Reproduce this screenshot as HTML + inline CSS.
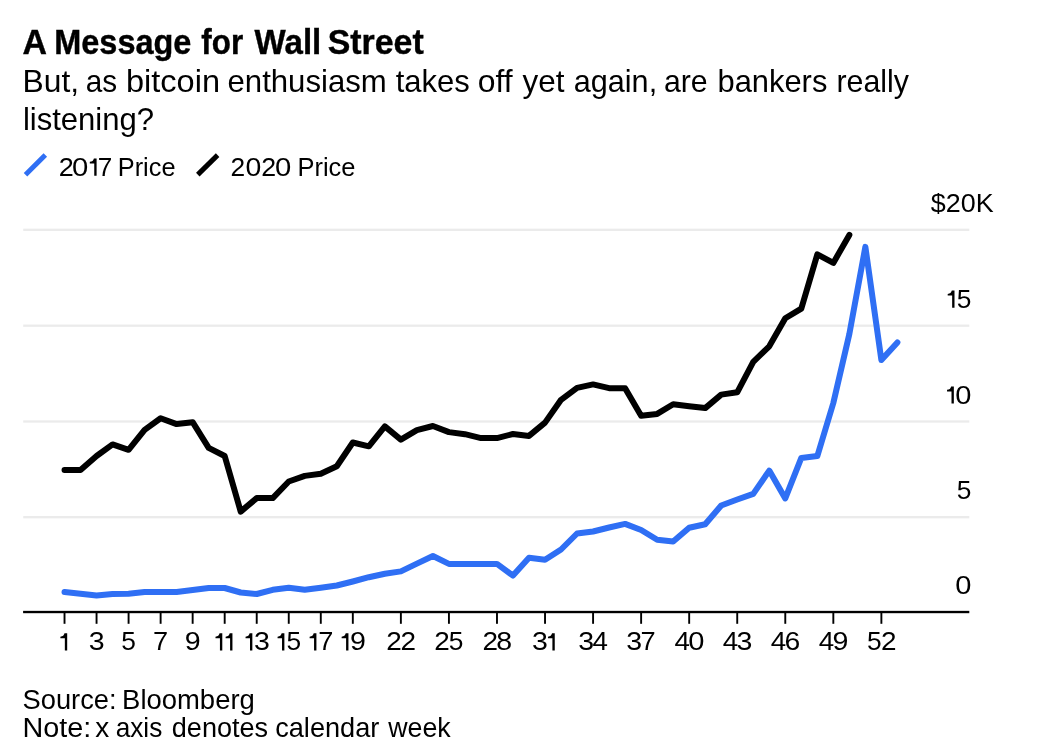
<!DOCTYPE html>
<html><head><meta charset="utf-8"><title>A Message for Wall Street</title>
<style>
html,body{margin:0;padding:0;background:#fff;}
body{width:1037px;height:751px;overflow:hidden;}
svg{display:block;will-change:transform;}
text{font-family:"Liberation Sans", sans-serif;fill:#000;}
</style></head><body>
<svg width="1037" height="751" viewBox="0 0 1037 751">
<rect width="1037" height="751" fill="#ffffff"/>

<text x="22.45" y="53.9" font-size="34.2" font-weight="bold" textLength="24.52" lengthAdjust="spacingAndGlyphs" stroke="#000" stroke-width="0.4">A</text><text x="54.29" y="53.9" font-size="34.2" font-weight="bold" textLength="137.13" lengthAdjust="spacingAndGlyphs" stroke="#000" stroke-width="0.4">Message</text><text x="201.33" y="53.9" font-size="34.2" font-weight="bold" textLength="41.78" lengthAdjust="spacingAndGlyphs" stroke="#000" stroke-width="0.4">for</text><text x="254.6" y="53.9" font-size="34.2" font-weight="bold" textLength="66.67" lengthAdjust="spacingAndGlyphs" stroke="#000" stroke-width="0.4">Wall</text><text x="327.68" y="53.9" font-size="34.2" font-weight="bold" textLength="96.01" lengthAdjust="spacingAndGlyphs" stroke="#000" stroke-width="0.4">Street</text>
<text x="22.56" y="91.7" font-size="31.1" textLength="56.51" lengthAdjust="spacingAndGlyphs">But,</text><text x="85.76" y="91.7" font-size="31.1" textLength="31.41" lengthAdjust="spacingAndGlyphs">as</text><text x="125.99" y="91.7" font-size="31.1" textLength="94.05" lengthAdjust="spacingAndGlyphs">bitcoin</text><text x="227.5" y="91.7" font-size="31.1" textLength="159.29" lengthAdjust="spacingAndGlyphs">enthusiasm</text><text x="395.74" y="91.7" font-size="31.1" textLength="74.05" lengthAdjust="spacingAndGlyphs">takes</text><text x="477.83" y="91.7" font-size="31.1" textLength="34.83" lengthAdjust="spacingAndGlyphs">off</text><text x="522.44" y="91.7" font-size="31.1" textLength="41.94" lengthAdjust="spacingAndGlyphs">yet</text><text x="573.72" y="91.7" font-size="31.1" textLength="83.42" lengthAdjust="spacingAndGlyphs">again,</text><text x="663.94" y="91.7" font-size="31.1" textLength="43.73" lengthAdjust="spacingAndGlyphs">are</text><text x="717.49" y="91.7" font-size="31.1" textLength="109.87" lengthAdjust="spacingAndGlyphs">bankers</text><text x="836.43" y="91.7" font-size="31.1" textLength="72.51" lengthAdjust="spacingAndGlyphs">really</text>
<text x="22.88" y="130.0" font-size="31.1" textLength="131.21" lengthAdjust="spacingAndGlyphs">listening?</text>
<line x1="25.5" y1="174.8" x2="45.3" y2="155.1" stroke="#2f6ff4" stroke-width="5"/>
<text x="58.65" y="175.85" font-size="25.2" textLength="15.03" lengthAdjust="spacingAndGlyphs">2</text><text x="72.13" y="175.85" font-size="25.2" textLength="16.28" lengthAdjust="spacingAndGlyphs">0</text><text x="97.69" y="175.85" font-size="25.2" textLength="14.55" lengthAdjust="spacingAndGlyphs">7</text><text x="117.77" y="175.85" font-size="25.2" textLength="57.73" lengthAdjust="spacingAndGlyphs">Price</text>
<path d="M94.25,158.40 L96.60,158.40 L96.60,175.70 L94.25,175.70 L94.25,163.40 L89.80,163.40 L89.80,161.75 Q93.25,161.50 93.90,158.40 Z" fill="#000"/>
<line x1="197.8" y1="174.6" x2="217.6" y2="155.1" stroke="#000" stroke-width="5"/>
<text x="230.58" y="175.85" font-size="25.2" textLength="14.67" lengthAdjust="spacingAndGlyphs">2</text><text x="245.46" y="175.85" font-size="25.2" textLength="15.81" lengthAdjust="spacingAndGlyphs">0</text><text x="261.26" y="175.85" font-size="25.2" textLength="14.91" lengthAdjust="spacingAndGlyphs">2</text><text x="275.13" y="175.85" font-size="25.2" textLength="16.28" lengthAdjust="spacingAndGlyphs">0</text><text x="297.47" y="175.85" font-size="25.2" textLength="57.94" lengthAdjust="spacingAndGlyphs">Price</text>
<rect x="23.2" y="228.65" width="946.1" height="2.3" fill="#ebebeb"/>
<rect x="23.2" y="324.55" width="946.1" height="2.3" fill="#ebebeb"/>
<rect x="23.2" y="420.35" width="946.1" height="2.3" fill="#ebebeb"/>
<rect x="23.2" y="516.05" width="946.1" height="2.3" fill="#ebebeb"/>
<text x="930.83" y="211.5" font-size="25.2" textLength="62.78" lengthAdjust="spacingAndGlyphs">$20K</text>
<path d="M952.15,290.60 L954.50,290.60 L954.50,307.70 L952.15,307.70 L952.15,295.60 L947.70,295.60 L947.70,293.95 Q951.15,293.70 951.80,290.60 Z" fill="#000"/><text x="956.65" y="307.7" font-size="25.2" textLength="14.64" lengthAdjust="spacingAndGlyphs">5</text>
<path d="M951.50,386.50 L953.85,386.50 L953.85,403.60 L951.50,403.60 L951.50,391.50 L947.05,391.50 L947.05,389.85 Q950.50,389.60 951.15,386.50 Z" fill="#000"/><text x="955.24" y="403.6" font-size="25.2" textLength="16.16" lengthAdjust="spacingAndGlyphs">0</text>
<text x="956.65" y="499.1" font-size="25.2" textLength="14.64" lengthAdjust="spacingAndGlyphs">5</text>
<text x="955.24" y="594.2" font-size="25.2" textLength="16.16" lengthAdjust="spacingAndGlyphs">0</text>
<rect x="23.1" y="610.85" width="946.2" height="2.35" fill="#000"/>
<rect x="63.57" y="612" width="1.9" height="11.8" fill="#000"/>
<path d="M64.84,633.30 L67.19,633.30 L67.19,650.40 L64.84,650.40 L64.84,638.30 L60.39,638.30 L60.39,636.65 Q63.84,636.40 64.50,633.30 Z" fill="#000"/>
<rect x="95.6" y="612" width="1.9" height="11.8" fill="#000"/>
<text x="88.71" y="650.4" font-size="25.2" textLength="15.86" lengthAdjust="spacingAndGlyphs">3</text>
<rect x="127.63" y="612" width="1.9" height="11.8" fill="#000"/>
<text x="121.28" y="650.4" font-size="25.2" textLength="14.64" lengthAdjust="spacingAndGlyphs">5</text>
<rect x="159.67" y="612" width="1.9" height="11.8" fill="#000"/>
<text x="152.99" y="650.4" font-size="25.2" textLength="15.15" lengthAdjust="spacingAndGlyphs">7</text>
<rect x="191.7" y="612" width="1.9" height="11.8" fill="#000"/>
<text x="184.71" y="650.4" font-size="25.2" textLength="15.91" lengthAdjust="spacingAndGlyphs">9</text>
<rect x="223.74" y="612" width="1.9" height="11.8" fill="#000"/>
<path d="M219.94,633.30 L222.29,633.30 L222.29,650.40 L219.94,650.40 L219.94,638.30 L215.49,638.30 L215.49,636.65 Q218.94,636.40 219.59,633.30 Z" fill="#000"/><path d="M230.09,633.30 L232.44,633.30 L232.44,650.40 L230.09,650.40 L230.09,638.30 L225.64,638.30 L225.64,636.65 Q229.09,636.40 229.74,633.30 Z" fill="#000"/>
<rect x="255.77" y="612" width="1.9" height="11.8" fill="#000"/>
<path d="M250.00,633.30 L252.35,633.30 L252.35,650.40 L250.00,650.40 L250.00,638.30 L245.55,638.30 L245.55,636.65 Q249.00,636.40 249.65,633.30 Z" fill="#000"/><text x="253.95" y="650.4" font-size="25.2" textLength="15.86" lengthAdjust="spacingAndGlyphs">3</text>
<rect x="287.8" y="612" width="1.9" height="11.8" fill="#000"/>
<path d="M282.02,633.30 L284.38,633.30 L284.38,650.40 L282.02,650.40 L282.02,638.30 L277.57,638.30 L277.57,636.65 Q281.02,636.40 281.67,633.30 Z" fill="#000"/><text x="286.52" y="650.4" font-size="25.2" textLength="14.64" lengthAdjust="spacingAndGlyphs">5</text>
<rect x="319.84" y="612" width="1.9" height="11.8" fill="#000"/>
<path d="M314.06,633.30 L316.42,633.30 L316.42,650.40 L314.06,650.40 L314.06,638.30 L309.62,638.30 L309.62,636.65 Q313.06,636.40 313.71,633.30 Z" fill="#000"/><text x="318.24" y="650.4" font-size="25.2" textLength="15.15" lengthAdjust="spacingAndGlyphs">7</text>
<rect x="351.87" y="612" width="1.9" height="11.8" fill="#000"/>
<path d="M346.09,633.30 L348.44,633.30 L348.44,650.40 L346.09,650.40 L346.09,638.30 L341.64,638.30 L341.64,636.65 Q345.09,636.40 345.74,633.30 Z" fill="#000"/><text x="349.96" y="650.4" font-size="25.2" textLength="15.91" lengthAdjust="spacingAndGlyphs">9</text>
<rect x="399.92" y="612" width="1.9" height="11.8" fill="#000"/>
<text x="386.33" y="650.4" font-size="25.2" textLength="15.54" lengthAdjust="spacingAndGlyphs">2</text><text x="400.43" y="650.4" font-size="25.2" textLength="15.54" lengthAdjust="spacingAndGlyphs">2</text>
<rect x="447.98" y="612" width="1.9" height="11.8" fill="#000"/>
<text x="434.39" y="650.4" font-size="25.2" textLength="15.54" lengthAdjust="spacingAndGlyphs">2</text><text x="448.68" y="650.4" font-size="25.2" textLength="14.64" lengthAdjust="spacingAndGlyphs">5</text>
<rect x="496.03" y="612" width="1.9" height="11.8" fill="#000"/>
<text x="482.44" y="650.4" font-size="25.2" textLength="15.54" lengthAdjust="spacingAndGlyphs">2</text><text x="496.19" y="650.4" font-size="25.2" textLength="15.86" lengthAdjust="spacingAndGlyphs">8</text>
<rect x="544.08" y="612" width="1.9" height="11.8" fill="#000"/>
<text x="532.11" y="650.4" font-size="25.2" textLength="15.86" lengthAdjust="spacingAndGlyphs">3</text><path d="M552.40,633.30 L554.75,633.30 L554.75,650.40 L552.40,650.40 L552.40,638.30 L547.96,638.30 L547.96,636.65 Q551.40,636.40 552.05,633.30 Z" fill="#000"/>
<rect x="592.13" y="612" width="1.9" height="11.8" fill="#000"/>
<text x="578.19" y="650.4" font-size="25.2" textLength="15.86" lengthAdjust="spacingAndGlyphs">3</text><text x="592.64" y="650.4" font-size="25.2" textLength="15.44" lengthAdjust="spacingAndGlyphs">4</text>
<rect x="640.18" y="612" width="1.9" height="11.8" fill="#000"/>
<text x="626.24" y="650.4" font-size="25.2" textLength="15.86" lengthAdjust="spacingAndGlyphs">3</text><text x="640.55" y="650.4" font-size="25.2" textLength="15.15" lengthAdjust="spacingAndGlyphs">7</text>
<rect x="688.23" y="612" width="1.9" height="11.8" fill="#000"/>
<text x="674.64" y="650.4" font-size="25.2" textLength="15.44" lengthAdjust="spacingAndGlyphs">4</text><text x="688.17" y="650.4" font-size="25.2" textLength="16.16" lengthAdjust="spacingAndGlyphs">0</text>
<rect x="736.28" y="612" width="1.9" height="11.8" fill="#000"/>
<text x="722.69" y="650.4" font-size="25.2" textLength="15.44" lengthAdjust="spacingAndGlyphs">4</text><text x="736.44" y="650.4" font-size="25.2" textLength="15.86" lengthAdjust="spacingAndGlyphs">3</text>
<rect x="784.33" y="612" width="1.9" height="11.8" fill="#000"/>
<text x="770.74" y="650.4" font-size="25.2" textLength="15.44" lengthAdjust="spacingAndGlyphs">4</text><text x="784.55" y="650.4" font-size="25.2" textLength="15.74" lengthAdjust="spacingAndGlyphs">6</text>
<rect x="832.38" y="612" width="1.9" height="11.8" fill="#000"/>
<text x="818.79" y="650.4" font-size="25.2" textLength="15.44" lengthAdjust="spacingAndGlyphs">4</text><text x="832.44" y="650.4" font-size="25.2" textLength="15.91" lengthAdjust="spacingAndGlyphs">9</text>
<rect x="880.43" y="612" width="1.9" height="11.8" fill="#000"/>
<text x="867.03" y="650.4" font-size="25.2" textLength="14.64" lengthAdjust="spacingAndGlyphs">5</text><text x="880.94" y="650.4" font-size="25.2" textLength="15.54" lengthAdjust="spacingAndGlyphs">2</text>
<path d="M64.52,592.0 L80.53,593.7 L96.55,595.5 L112.57,593.9 L128.58,593.7 L144.6,592.0 L160.62,592.0 L176.64,592.0 L192.65,590.1 L208.67,588.1 L224.69,588.0 L240.7,592.5 L256.72,594.0 L272.74,589.8 L288.75,587.8 L304.77,589.8 L320.79,587.8 L336.81,585.5 L352.82,581.5 L368.84,577.2 L384.86,573.7 L400.87,571.4 L416.89,563.6 L432.91,556.0 L448.93,563.9 L464.94,563.9 L480.96,563.9 L496.98,563.9 L512.99,575.6 L529.01,557.8 L545.03,559.7 L561.04,549.5 L577.06,533.5 L593.08,531.5 L609.1,527.5 L625.11,523.9 L641.13,530.0 L657.15,539.7 L673.16,541.6 L689.18,527.7 L705.2,524.2 L721.21,505.5 L737.23,499.5 L753.25,493.9 L769.26,470.6 L785.28,498.4 L801.3,457.9 L817.32,456.1 L833.33,403.0 L849.35,334.0 L865.37,246.9 L881.38,360.1 L897.4,342.4" fill="none" stroke="#2f6ff4" stroke-width="6" stroke-linejoin="round" stroke-linecap="round"/>
<path d="M64.52,469.9 L80.53,469.9 L96.55,456.0 L112.57,444.4 L128.58,449.8 L144.6,429.9 L160.62,418.3 L176.64,424.1 L192.65,422.2 L208.67,447.9 L224.69,456.0 L240.7,511.6 L256.72,498.1 L272.74,498.1 L288.75,481.5 L304.77,475.9 L320.79,473.7 L336.81,466.2 L352.82,442.5 L368.84,446.3 L384.86,426.4 L400.87,439.6 L416.89,430.1 L432.91,426.0 L448.93,432.1 L464.94,434.2 L480.96,438.1 L496.98,438.1 L512.99,434.0 L529.01,435.9 L545.03,422.6 L561.04,399.8 L577.06,387.9 L593.08,384.4 L609.1,388.2 L625.11,388.2 L641.13,415.8 L657.15,413.9 L673.16,404.2 L689.18,406.2 L705.2,408.1 L721.21,394.6 L737.23,392.3 L753.25,361.8 L769.26,346.3 L785.28,318.3 L801.3,308.6 L817.32,254.4 L833.33,262.9 L849.35,234.9" fill="none" stroke="#000" stroke-width="6" stroke-linejoin="round" stroke-linecap="round"/>
<text x="22.57" y="708.8" font-size="27.1" textLength="94.02" lengthAdjust="spacingAndGlyphs">Source:</text><text x="122.1" y="708.8" font-size="27.1" textLength="132.7" lengthAdjust="spacingAndGlyphs">Bloomberg</text>
<text x="22.4" y="736.7" font-size="27.1" textLength="68.8" lengthAdjust="spacingAndGlyphs">Note:</text><text x="95.18" y="736.7" font-size="27.1" textLength="13.99" lengthAdjust="spacingAndGlyphs">x</text><text x="115.67" y="736.7" font-size="27.1" textLength="46.64" lengthAdjust="spacingAndGlyphs">axis</text><text x="171.82" y="736.7" font-size="27.1" textLength="96.33" lengthAdjust="spacingAndGlyphs">denotes</text><text x="275.18" y="736.7" font-size="27.1" textLength="104.15" lengthAdjust="spacingAndGlyphs">calendar</text><text x="388.2" y="736.7" font-size="27.1" textLength="62.49" lengthAdjust="spacingAndGlyphs">week</text>
</svg></body></html>
